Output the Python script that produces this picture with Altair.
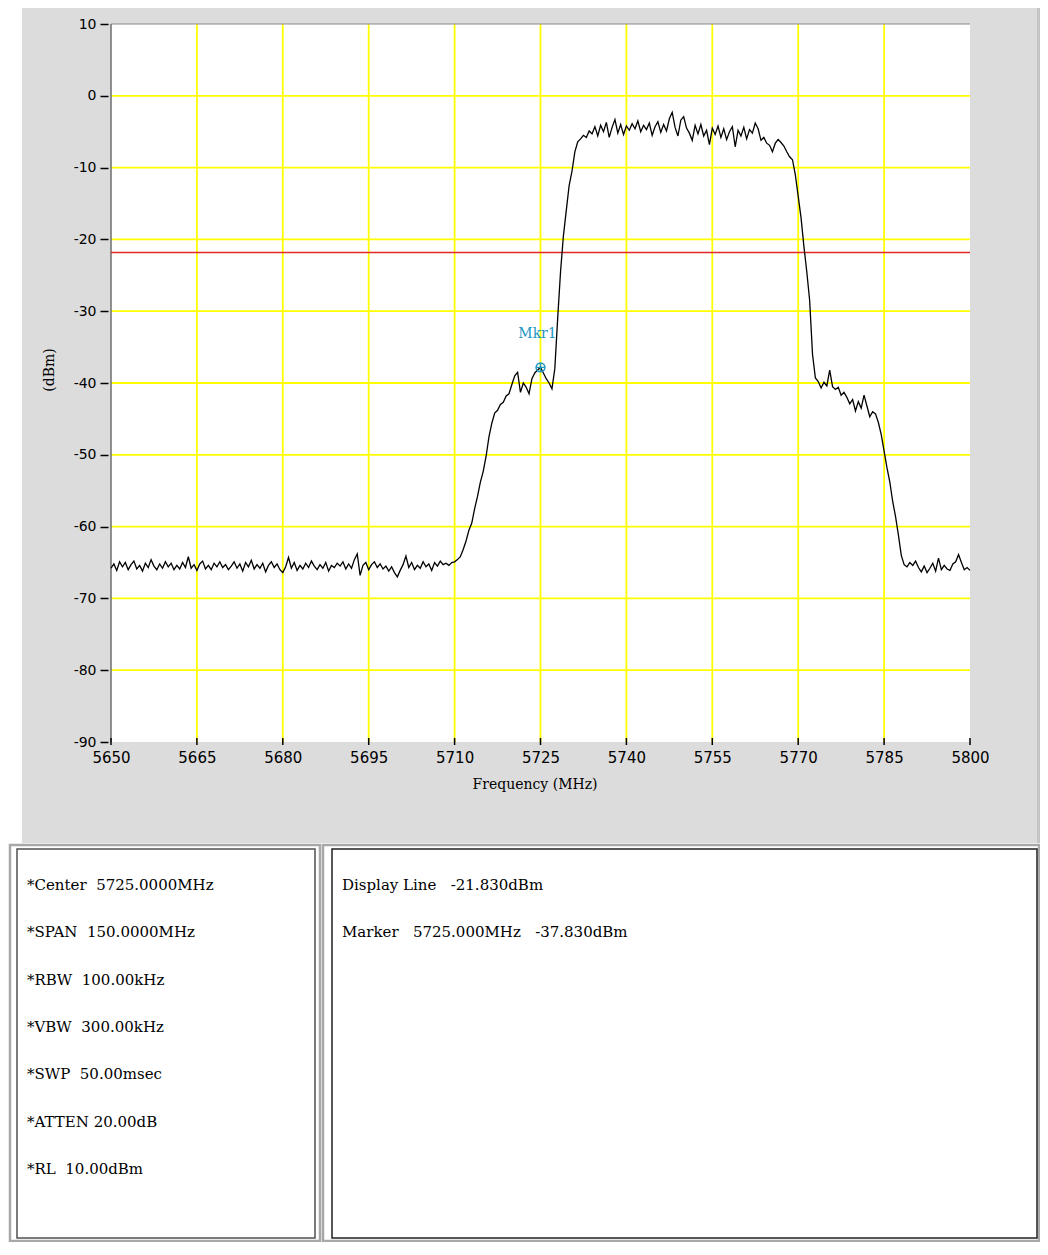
import altair as alt
import pandas as pd

# ---------------- data ----------------
FREQ_START = 5650.0   # MHz
FREQ_STEP = 0.5       # MHz between trace samples

LEVEL_5650 = [-65.8, -65.2, -66.1, -64.9, -65.6, -65.0, -66.0, -65.3, -64.8, -65.9,
              -65.4, -66.2, -65.1, -65.7, -64.6, -65.5, -66.0, -65.2, -65.8, -64.9]
LEVEL_5660 = [-65.6, -65.1, -66.0, -65.4, -65.9, -65.0, -65.7, -64.2, -65.8, -65.3,
              -66.1, -65.2, -64.8, -65.9, -65.4, -66.0, -65.1, -65.6, -64.9, -65.7]
LEVEL_5670 = [-65.3, -66.0, -65.5, -64.9, -65.8, -65.2, -66.2, -65.0, -65.6, -64.7,
              -65.9, -65.3, -65.8, -65.1, -66.3, -65.4, -64.9, -65.7, -65.2, -66.0]
LEVEL_5680 = [-66.4, -65.6, -64.3, -65.8, -65.0, -66.1, -65.4, -65.9, -65.1, -65.7,
              -64.8, -65.5, -66.0, -65.3, -65.8, -65.0, -66.2, -65.4, -65.7, -65.1]
LEVEL_5690 = [-65.5, -64.9, -65.9, -65.2, -65.8, -64.6, -63.8, -66.8, -65.4, -65.0,
              -66.0, -65.3, -64.9, -65.7, -65.2, -65.9, -65.5, -66.2, -65.6, -66.4]
LEVEL_5700 = [-67.0, -66.1, -65.3, -64.1, -65.7, -65.0, -66.0, -65.4, -65.8, -64.9,
              -65.6, -65.2, -66.1, -65.0, -65.5, -64.8, -65.3, -65.1, -65.4, -65.0]
LEVEL_5710 = [-64.9, -64.6, -64.2, -63.2, -62.0, -60.5, -59.5, -57.5, -55.8, -53.8,
              -52.3, -50.2, -47.5, -45.6, -44.2, -43.8, -43.0, -42.7, -41.8, -41.5]
LEVEL_5720 = [-40.2, -39.0, -38.5, -41.3, -40.0, -40.6, -41.5, -39.4, -38.6, -38.2,
              -37.83, -38.6, -39.4, -40.0, -40.8, -38.0, -31.0, -24.5, -19.5, -16.0]
LEVEL_5730 = [-12.5, -10.5, -7.8, -6.4, -6.0, -5.5, -5.8, -4.9, -5.3, -4.3,
              -5.6, -4.1, -5.0, -3.7, -5.8, -4.4, -3.3, -5.2, -4.0, -5.4]
LEVEL_5740 = [-4.2, -4.8, -3.9, -4.6, -3.5, -5.0, -4.1, -4.7, -3.8, -5.5,
              -4.3, -3.6, -5.1, -4.0, -4.9, -3.2, -2.3, -4.4, -5.6, -3.4]
LEVEL_5750 = [-2.9, -4.5, -5.2, -6.2, -4.1, -5.3, -4.0, -5.6, -4.8, -6.8,
              -4.5, -5.4, -4.2, -5.8, -4.6, -6.1, -5.0, -4.3, -7.1, -4.8]
LEVEL_5760 = [-5.6, -4.4, -6.0, -4.7, -5.2, -3.8, -4.6, -6.2, -5.8, -6.6,
              -6.9, -7.8, -6.6, -6.1, -6.5, -7.0, -7.8, -8.5, -8.9, -11.0]
LEVEL_5770 = [-14.0, -17.0, -21.0, -24.5, -28.5, -36.0, -39.3, -39.8, -40.7, -39.9,
              -40.4, -38.2, -40.5, -40.9, -40.6, -41.7, -41.3, -42.0, -42.9, -42.3]
LEVEL_5780 = [-43.9, -42.6, -43.5, -41.7, -43.2, -44.7, -44.0, -44.3, -45.5, -47.2,
              -49.5, -51.8, -53.8, -56.5, -58.6, -61.2, -64.0, -65.3, -65.6, -65.0]
LEVEL_5790 = [-65.4, -64.8, -65.7, -66.3, -65.5, -66.4, -65.8, -65.1, -66.2, -64.4,
              -66.0, -65.4, -65.9, -66.1, -65.2, -64.9, -63.9, -65.0, -66.0, -65.7, -66.1]

X_TICKS = [5650, 5665, 5680, 5695, 5710, 5725, 5740, 5755, 5770, 5785, 5800]
Y_TICKS = [-90, -80, -70, -60, -50, -40, -30, -20, -10, 0, 10]
X_GRID = [5665, 5680, 5695, 5710, 5725, 5740, 5755, 5770, 5785]
Y_GRID = [-80, -70, -60, -50, -40, -30, -20, -10, 0]

DISPLAY_LINE = -21.83
MARKER_FREQ = 5725.0
MARKER_LEVEL = -37.83
MARKER_LABEL = "Mkr1"

X_TITLE = "Frequency (MHz)"
Y_TITLE = "(dBm)"

NB = "\u00a0"
LEFT_LINES = [
    "*Center" + NB * 2 + "5725.0000MHz",
    "*SPAN" + NB * 2 + "150.0000MHz",
    "*RBW" + NB * 2 + "100.00kHz",
    "*VBW" + NB * 2 + "300.00kHz",
    "*SWP" + NB * 2 + "50.00msec",
    "*ATTEN 20.00dB",
    "*RL" + NB * 2 + "10.00dBm",
]
RIGHT_LINES = [
    "Display Line" + NB * 3 + "-21.830dBm",
    "Marker" + NB * 3 + "5725.000MHz" + NB * 3 + "-37.830dBm",
]

# ---------------- build ----------------
LEVELS = (LEVEL_5650 + LEVEL_5660 + LEVEL_5670 + LEVEL_5680 + LEVEL_5690 + LEVEL_5700 +
          LEVEL_5710 + LEVEL_5720 + LEVEL_5730 + LEVEL_5740 + LEVEL_5750 + LEVEL_5760 +
          LEVEL_5770 + LEVEL_5780 + LEVEL_5790)
FREQS = [FREQ_START + i * FREQ_STEP for i in range(len(LEVELS))]

W, H = 859, 718
GRAY = "#dcdcdc"
TEAL = "#2196c4"
SERIF = "DejaVu Serif"
SANS = "DejaVu Sans"

xs = alt.Scale(domain=[5650, 5800], nice=False, zero=False)
ys = alt.Scale(domain=[-90, 10], nice=False, zero=False)

X_AXIS = alt.Axis(values=X_TICKS, ticks=False, domain=False, grid=False, labelPadding=8,
                  labelFont=SANS, labelFontSize=15, labelColor="black", title=None,
                  zindex=1, labelOverlap=False, labelFlush=False,
                  labelExpr="'' + datum.value")
Y_AXIS = alt.Axis(values=Y_TICKS, domain=False, grid=False, offset=3, tickSize=8,
                  tickColor="black", tickWidth=1.5, labelPadding=4, labelFont=SANS,
                  labelFontSize=14, labelColor="black", title=None, zindex=1,
                  labelOverlap=False, labelFlush=False,
                  labelExpr="'' + datum.value")

one = pd.DataFrame({"a": [0]})


def box(x0, x1, y0, y1, fill=None, stroke=None, sw=1.0):
    kw = {"fill": fill if fill is not None else "transparent"}
    if stroke is not None:
        kw["stroke"] = stroke
        kw["strokeWidth"] = sw
    return alt.Chart(one).mark_rect(**kw).encode(
        x=alt.value(x0), x2=alt.value(x1), y=alt.value(y0), y2=alt.value(y1))


layers = []
# gray instrument panel + plot background
layers.append(box(-89, 926, -16, 819, fill=GRAY))
layers.append(box(926, 929, -16, 819, fill="#c4c4c4"))
layers.append(box(0, W, 0, H, fill="white"))

# grid
layers.append(alt.Chart(pd.DataFrame({"v": X_GRID})).mark_rule(color="#ffff00", strokeWidth=1.8).encode(
    x=alt.X("v:Q", scale=xs, axis=X_AXIS), y=alt.value(0), y2=alt.value(H)))
layers.append(alt.Chart(pd.DataFrame({"w": Y_GRID})).mark_rule(color="#ffff00", strokeWidth=1.8).encode(
    y=alt.Y("w:Q", scale=ys, axis=Y_AXIS), x=alt.value(0), x2=alt.value(W)))

# borders
layers.append(alt.Chart(one).mark_rule(color="#8a8a8a", strokeWidth=1.2).encode(
    x=alt.value(0), x2=alt.value(W), y=alt.value(0)))
layers.append(alt.Chart(one).mark_rule(color="#6e6e6e", strokeWidth=1.5).encode(
    x=alt.value(0), y=alt.value(0), y2=alt.value(H)))

# x ticks
layers.append(alt.Chart(pd.DataFrame({"v": X_TICKS})).mark_rule(color="black", strokeWidth=1.5).encode(
    x=alt.X("v:Q", scale=xs, axis=X_AXIS), y=alt.value(H - 4), y2=alt.value(H + 3)))

# display line
layers.append(alt.Chart(pd.DataFrame({"w": [DISPLAY_LINE]})).mark_rule(color="#e0282a", strokeWidth=1.5).encode(
    y=alt.Y("w:Q", scale=ys, axis=Y_AXIS), x=alt.value(0), x2=alt.value(W)))

# trace
trace_df = pd.DataFrame({"freq": FREQS, "level": LEVELS})
layers.append(alt.Chart(trace_df).mark_line(color="black", strokeWidth=1.3, interpolate="linear").encode(
    x=alt.X("freq:Q", scale=xs, axis=X_AXIS),
    y=alt.Y("level:Q", scale=ys, axis=Y_AXIS)))

# marker
mk = pd.DataFrame({"freq": [MARKER_FREQ], "level": [MARKER_LEVEL], "t": [MARKER_LABEL]})
layers.append(alt.Chart(mk).mark_point(
    shape="M-1,0A1,1,0,1,1,1,0A1,1,0,1,1,-1,0M-1,0L1,0M0,-1L0,1",
    filled=False, stroke=TEAL, strokeWidth=1.4, size=80, opacity=1).encode(
    x=alt.X("freq:Q", scale=xs, axis=X_AXIS), y=alt.Y("level:Q", scale=ys, axis=Y_AXIS)))
layers.append(alt.Chart(mk).mark_text(font=SERIF, fontSize=14, color=TEAL, dy=-33, dx=-3).encode(
    x=alt.X("freq:Q", scale=xs, axis=X_AXIS), y=alt.Y("level:Q", scale=ys, axis=Y_AXIS), text="t:N"))

# axis titles
layers.append(alt.Chart(pd.DataFrame({"t": [X_TITLE]})).mark_text(
    font=SERIF, fontSize=14, color="black", align="center", baseline="middle").encode(
    x=alt.value(424), y=alt.value(761), text="t:N"))
layers.append(alt.Chart(pd.DataFrame({"t": [Y_TITLE]})).mark_text(
    font=SERIF, fontSize=14, color="black", align="center", baseline="middle", angle=270).encode(
    x=alt.value(-61), y=alt.value(346), text="t:N"))

# lower info panels
layers.append(box(-101, 209, 821, 1217, fill="white", stroke="#a8a8a8", sw=2.5))
layers.append(box(-94, 204, 825, 1214, fill="white", stroke="#505050", sw=1.5))
layers.append(box(212, 928, 821, 1217, fill="white", stroke="#a8a8a8", sw=2.5))
layers.append(box(221, 926, 825, 1214, fill="white", stroke="#202020", sw=1.5))

for i, s in enumerate(LEFT_LINES):
    layers.append(alt.Chart(pd.DataFrame({"t": [s]})).mark_text(
        font=SERIF, fontSize=15, color="black", align="left", baseline="middle").encode(
        x=alt.value(-84), y=alt.value(861 + 47.33 * i), text="t:N"))
for i, s in enumerate(RIGHT_LINES):
    layers.append(alt.Chart(pd.DataFrame({"t": [s]})).mark_text(
        font=SERIF, fontSize=15, color="black", align="left", baseline="middle").encode(
        x=alt.value(231), y=alt.value(861 + 47.33 * i), text="t:N"))

chart = alt.layer(*layers).properties(
    width=W, height=H,
    autosize=alt.AutoSizeParams(type="none"),
    padding={"left": 103, "top": 16, "right": 70, "bottom": 500},
    background="white",
).configure_view(stroke=None)

chart.save("out.html", embed_options={"renderer": "svg", "actions": False})
